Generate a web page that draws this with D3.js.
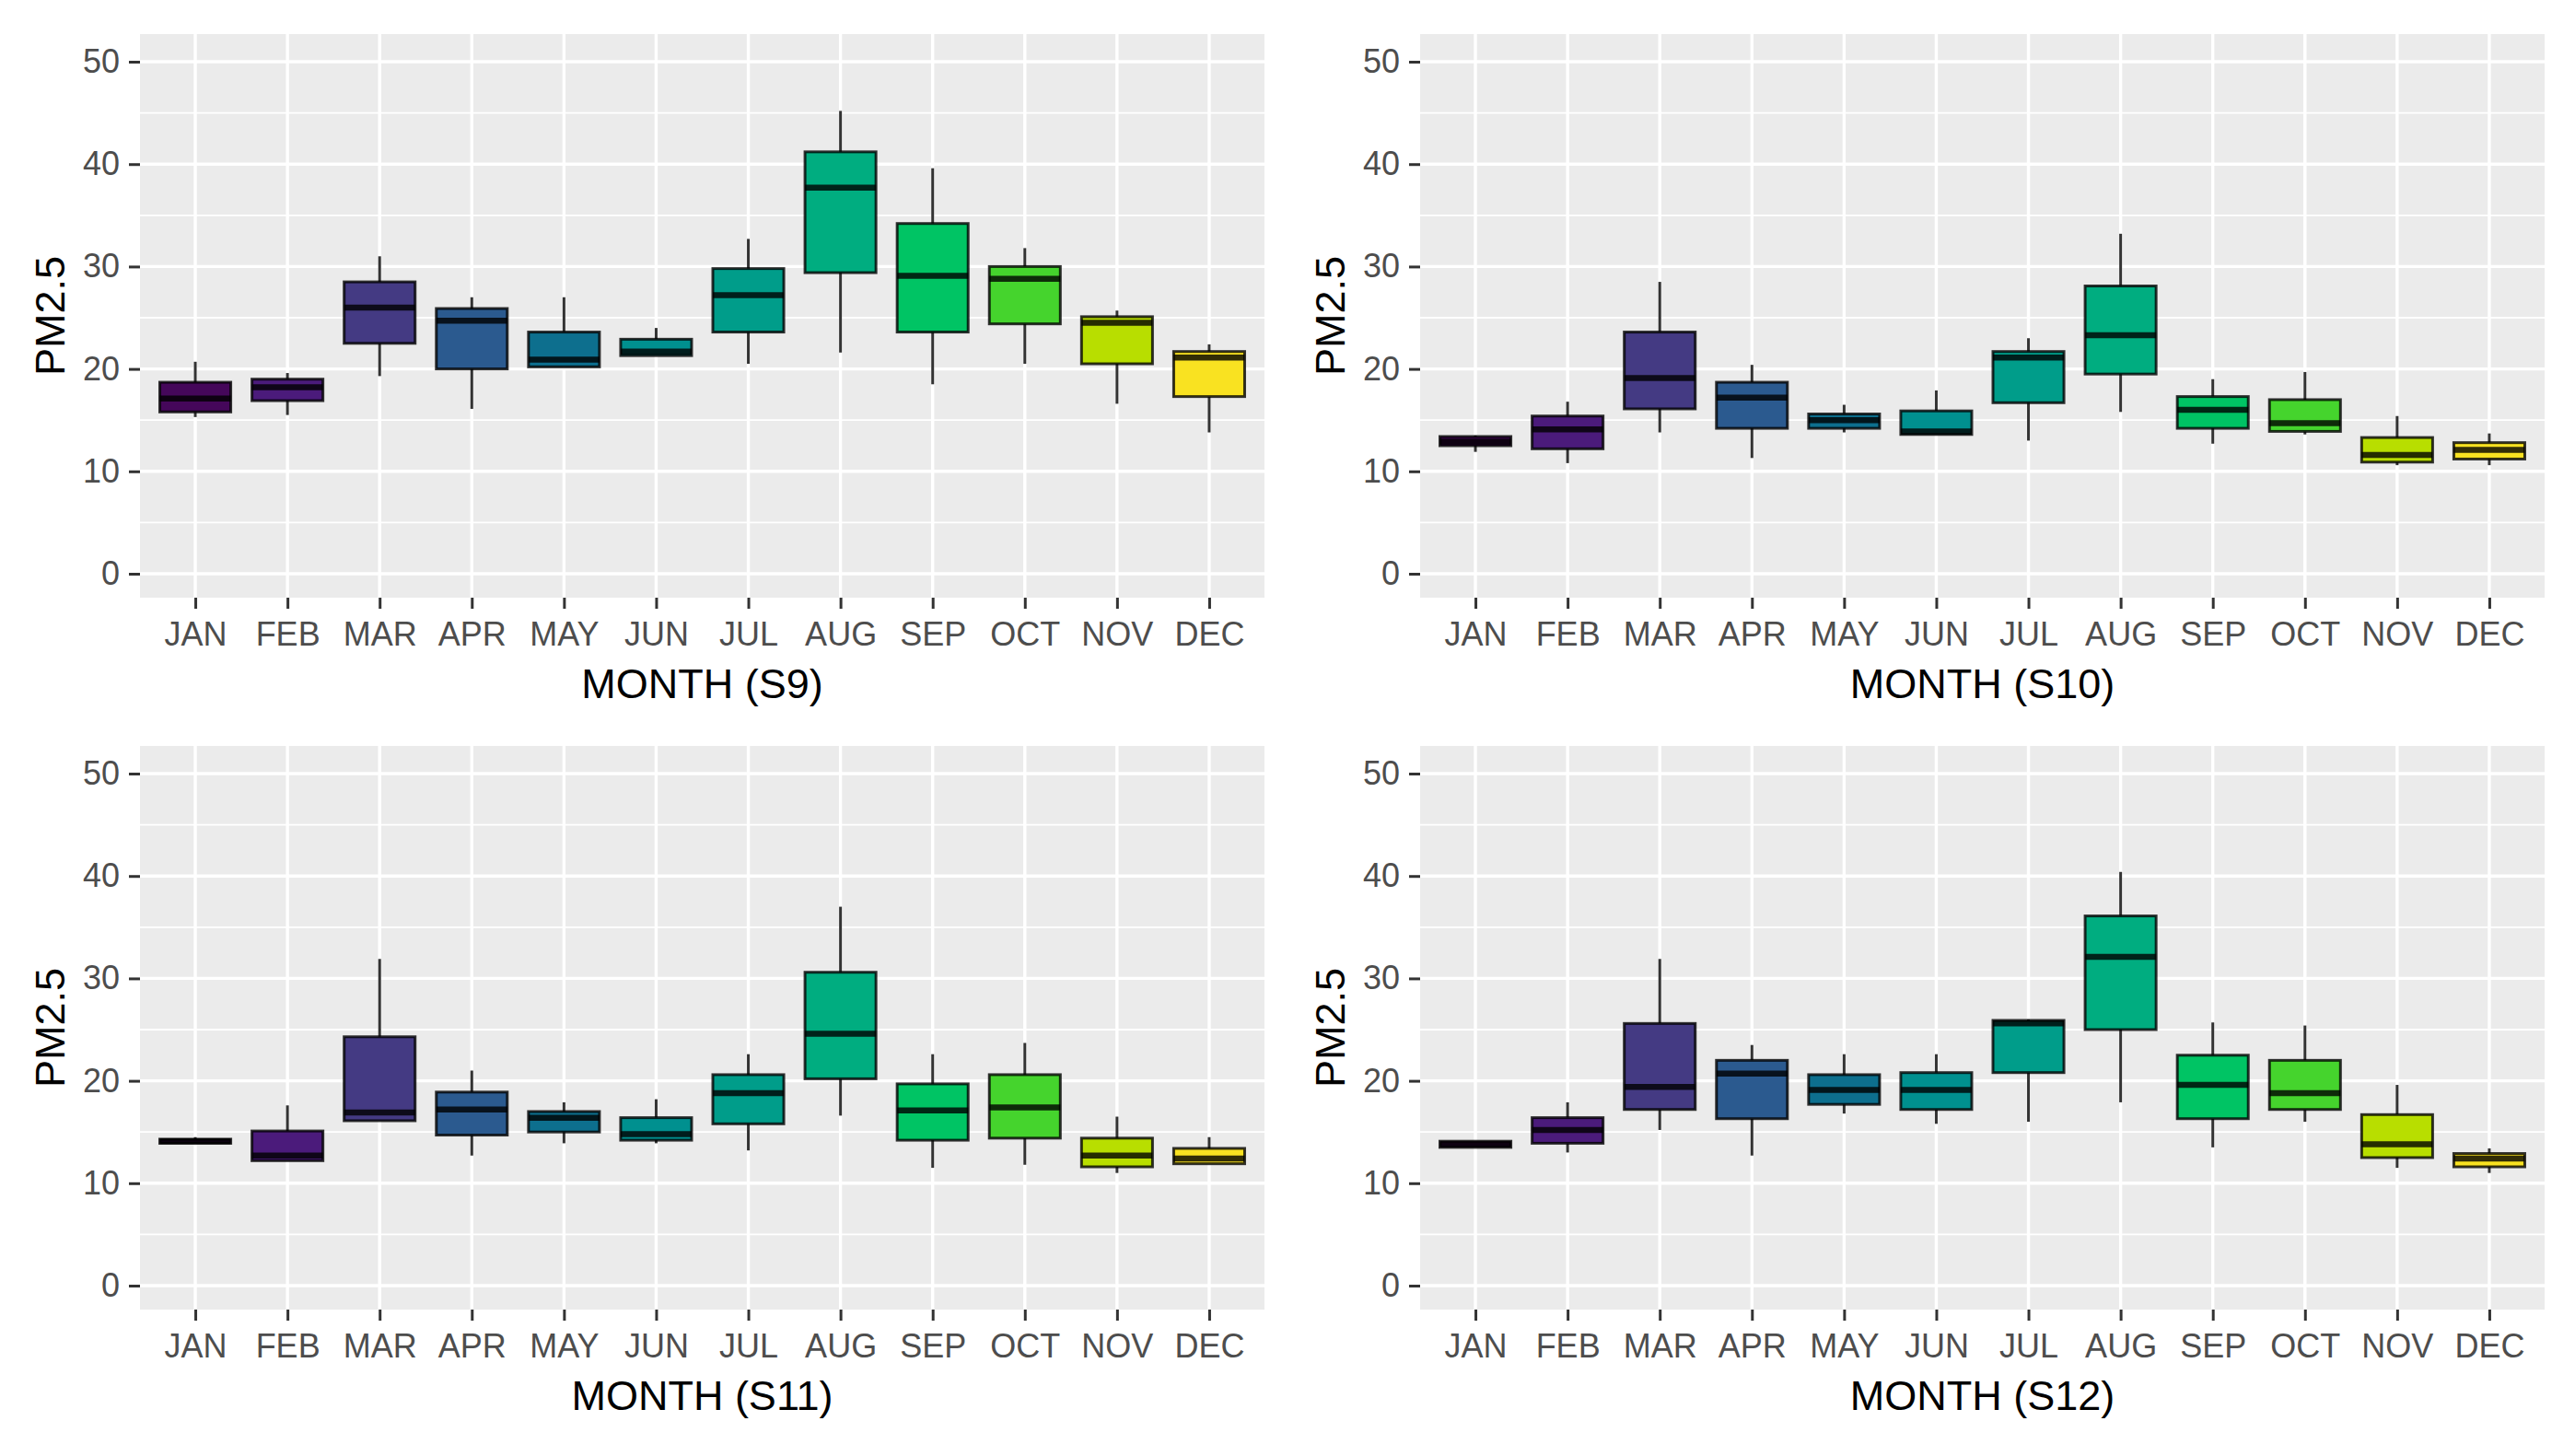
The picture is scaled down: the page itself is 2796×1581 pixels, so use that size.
<!DOCTYPE html>
<html>
<head>
<meta charset="utf-8">
<script src="https://cdn.jsdelivr.net/npm/d3@7"></script>
<style>
  body { margin: 0; background: #fff; }
  text { font-family: "Liberation Sans", Arial, sans-serif; }
</style>
</head>
<body>
<svg id="chart"></svg>
<script>
var WIDTH = 2796;
var HEIGHT = 1581;

var months = ["JAN", "FEB", "MAR", "APR", "MAY", "JUN", "JUL", "AUG", "SEP", "OCT", "NOV", "DEC"];
var yTicks = [0, 10, 20, 30, 40, 50];
var yMinor = [5, 15, 25, 35, 45];

// five number summaries per month: [lower whisker, q1, median, q3, upper whisker]
var s9 = [
  [15.3, 15.8, 17.1, 18.7, 20.7], [15.5, 16.9, 18.2, 19.0, 19.6], [19.3, 22.5, 26.0, 28.5, 31.0],
  [16.1, 20.0, 24.7, 25.9, 27.0], [20.2, 20.2, 20.9, 23.6, 27.0], [21.3, 21.3, 21.7, 22.9, 24.0],
  [20.5, 23.6, 27.2, 29.8, 32.7], [21.6, 29.4, 37.7, 41.2, 45.2], [18.5, 23.6, 29.1, 34.2, 39.6],
  [20.5, 24.4, 28.8, 30.0, 31.8], [16.6, 20.5, 24.5, 25.1, 25.7], [13.8, 17.3, 21.1, 21.7, 22.4]
];
var s10 = [
  [11.9, 12.5, 12.9, 13.4, 13.5], [10.8, 12.2, 14.1, 15.4, 16.8], [13.8, 16.1, 19.1, 23.6, 28.5],
  [11.3, 14.2, 17.2, 18.7, 20.4], [13.8, 14.2, 15.0, 15.6, 16.5], [13.6, 13.6, 13.9, 15.9, 17.9],
  [13.0, 16.7, 21.1, 21.7, 23.0], [15.8, 19.5, 23.3, 28.1, 33.2], [12.7, 14.2, 16.0, 17.3, 19.0],
  [13.6, 13.9, 14.7, 17.0, 19.7], [10.6, 10.9, 11.6, 13.3, 15.4], [10.6, 11.2, 12.1, 12.8, 13.7]
];
var s11 = [
  [13.9, 13.9, 14.1, 14.3, 14.5], [12.2, 12.2, 12.7, 15.1, 17.6], [16.1, 16.1, 16.9, 24.3, 31.9],
  [12.7, 14.7, 17.2, 18.9, 21.0], [13.9, 15.0, 16.4, 17.0, 17.9], [13.9, 14.2, 14.8, 16.4, 18.2],
  [13.2, 15.8, 18.8, 20.6, 22.6], [16.6, 20.2, 24.6, 30.6, 37.0], [11.5, 14.2, 17.1, 19.7, 22.6],
  [11.8, 14.4, 17.4, 20.6, 23.7], [11.0, 11.6, 12.7, 14.4, 16.5], [11.9, 11.9, 12.4, 13.4, 14.5]
];
var s12 = [
  [13.5, 13.5, 13.8, 14.1, 14.1], [13.0, 13.9, 15.2, 16.4, 17.9], [15.2, 17.2, 19.4, 25.6, 31.9],
  [12.7, 16.3, 20.7, 22.0, 23.5], [16.8, 17.7, 19.1, 20.6, 22.6], [15.8, 17.2, 19.1, 20.8, 22.6],
  [16.0, 20.8, 25.6, 25.9, 26.0], [17.9, 25.0, 32.1, 36.1, 40.4], [13.5, 16.3, 19.6, 22.5, 25.7],
  [16.0, 17.2, 18.8, 22.0, 25.4], [11.5, 12.5, 13.8, 16.7, 19.6], [11.0, 11.6, 12.4, 12.9, 13.4]
];

var stations = ["S9", "S10", "S11", "S12"];
var stationData = [s9, s10, s11, s12];

// viridis-like fill per month
var fills = ["#45075a", "#4b1b7b", "#443a83", "#2b5a8f", "#0d6f8e", "#00908f",
             "#009d8a", "#00ad80", "#00c464", "#45d42d", "#b8de00", "#f9e221"];

var panelW = 1221;
var panelH = 612;
var panelPos = [[152, 37], [1542, 37], [152, 810], [1542, 810]];
var outline = "rgba(0,0,0,0.8)";

var svg = d3.select("#chart").attr("width", WIDTH).attr("height", HEIGHT);
svg.append("rect").attr("width", WIDTH).attr("height", HEIGHT).attr("fill", "#fff");

stationData.forEach(function (data, i) {
  var left = panelPos[i][0];
  var top = panelPos[i][1];

  var x = d3.scalePoint().domain(months).range([left, left + panelW]).padding(0.6);
  var y = d3.scaleLinear().domain([-2.34, 52.7]).range([top + panelH, top]);
  var boxW = x.step() * 0.77;

  var g = svg.append("g");

  //panel background and grid
  g.append("rect")
    .attr("x", left).attr("y", top)
    .attr("width", panelW).attr("height", panelH)
    .attr("fill", "#ebebeb");

  g.selectAll(".minor")
    .data(yMinor)
    .enter()
    .append("line")
    .attr("x1", left).attr("x2", left + panelW)
    .attr("y1", function (d) { return y(d); })
    .attr("y2", function (d) { return y(d); })
    .attr("stroke", "#fff").attr("stroke-width", 1.8);

  g.selectAll(".major")
    .data(yTicks)
    .enter()
    .append("line")
    .attr("x1", left).attr("x2", left + panelW)
    .attr("y1", function (d) { return y(d); })
    .attr("y2", function (d) { return y(d); })
    .attr("stroke", "#fff").attr("stroke-width", 3.4);

  g.selectAll(".vgrid")
    .data(months)
    .enter()
    .append("line")
    .attr("x1", function (d) { return x(d); })
    .attr("x2", function (d) { return x(d); })
    .attr("y1", top).attr("y2", top + panelH)
    .attr("stroke", "#fff").attr("stroke-width", 3.4);

  //axes
  var yAxis = g.append("g")
    .attr("transform", "translate(" + left + ",0)")
    .call(d3.axisLeft(y).tickValues(yTicks).tickSize(12).tickPadding(10));
  var xAxis = g.append("g")
    .attr("transform", "translate(0," + (top + panelH) + ")")
    .call(d3.axisBottom(x).tickSize(12).tickPadding(14));

  [yAxis, xAxis].forEach(function (a) {
    a.select(".domain").remove();
    a.selectAll(".tick line").attr("stroke", "#333").attr("stroke-width", 3);
    a.selectAll(".tick text")
      .attr("fill", "#4d4d4d")
      .style("font-size", "36px")
      .style("font-family", "'Liberation Sans', Arial, sans-serif");
  });

  //boxes
  var boxes = g.selectAll(".box")
    .data(data)
    .enter()
    .append("g");

  boxes.append("line")
    .attr("x1", function (d, j) { return x(months[j]); })
    .attr("x2", function (d, j) { return x(months[j]); })
    .attr("y1", function (d) { return y(d[3]); })
    .attr("y2", function (d) { return y(d[4]); })
    .attr("stroke", outline).attr("stroke-width", 3);

  boxes.append("line")
    .attr("x1", function (d, j) { return x(months[j]); })
    .attr("x2", function (d, j) { return x(months[j]); })
    .attr("y1", function (d) { return y(d[0]); })
    .attr("y2", function (d) { return y(d[1]); })
    .attr("stroke", outline).attr("stroke-width", 3);

  boxes.append("rect")
    .attr("x", function (d, j) { return x(months[j]) - boxW / 2; })
    .attr("y", function (d) { return y(d[3]); })
    .attr("width", boxW)
    .attr("height", function (d) { return Math.max(0.5, y(d[1]) - y(d[3])); })
    .attr("fill", function (d, j) { return fills[j]; })
    .attr("stroke", outline).attr("stroke-width", 3);

  boxes.append("line")
    .attr("x1", function (d, j) { return x(months[j]) - boxW / 2; })
    .attr("x2", function (d, j) { return x(months[j]) + boxW / 2; })
    .attr("y1", function (d) { return y(d[2]); })
    .attr("y2", function (d) { return y(d[2]); })
    .attr("stroke", outline).attr("stroke-width", 6.5);

  //axis titles
  g.append("text")
    .attr("x", left + panelW / 2)
    .attr("y", top + panelH + 109)
    .attr("text-anchor", "middle")
    .style("font-size", "45px")
    .attr("fill", "#000")
    .text("MONTH (" + stations[i] + ")");

  g.append("text")
    .attr("transform", "translate(" + (left - 82) + "," + (top + panelH / 2) + ") rotate(-90)")
    .attr("text-anchor", "middle")
    .style("font-size", "45px")
    .attr("fill", "#000")
    .text("PM2.5");
});
</script>
</body>
</html>
